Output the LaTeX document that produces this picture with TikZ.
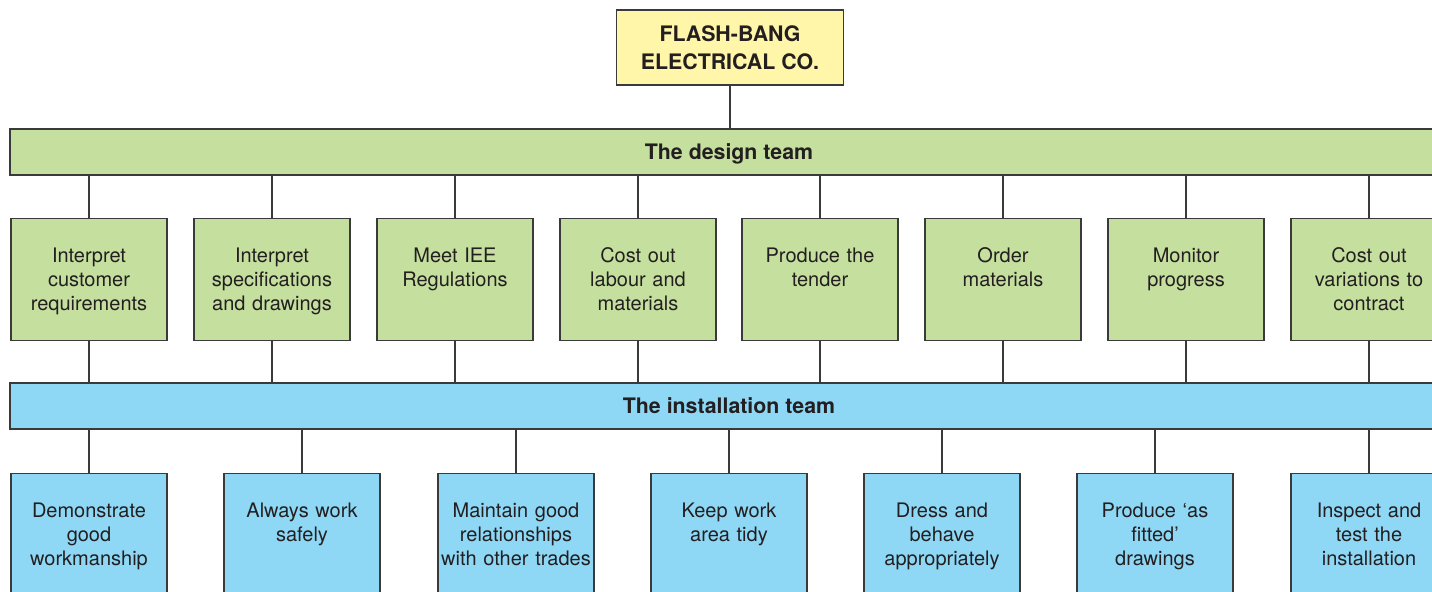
\documentclass[tikz,border=0pt]{standalone}
\usepackage{fontspec}
\setmainfont{TeX Gyre Heros}
\usepackage{xcolor}
\usepackage{tikz}
\definecolor{firmyellow}{RGB}{255,246,170}
\definecolor{designgreen}{RGB}{197,223,159}
\definecolor{installblue}{RGB}{142,216,246}
\definecolor{inkgray}{RGB}{35,31,32}
\definecolor{linegray}{RGB}{58,58,58}

\begin{document}
\begin{tikzpicture}[x=0.75pt, y=-0.75pt,
	every node/.style={text=inkgray},
	firmbox/.style={draw=linegray, line width=1pt, fill=firmyellow, minimum width=170.25pt, minimum height=56.25pt, align=center, font=\fontsize{16}{21}\selectfont\bfseries},
	teambar/.style={draw=linegray, line width=1pt, minimum width=1078.5pt, minimum height=34.5pt, inner sep=0pt, text height=11.5pt, text depth=0pt, font=\fontsize{16}{21}\selectfont\bfseries},
	taskbox/.style={draw=linegray, line width=1pt, anchor=north, text width=117pt, inner xsep=0pt, inner ysep=0pt, text height=32.5pt, text depth=59pt, align=center, font=\fontsize{15}{18}\selectfont},
	link/.style={draw=linegray, line width=1pt}]
	\useasboundingbox (0,0) rectangle (1432,592);
	\clip (0,0) rectangle (1432,592);

	\node[firmbox] (firm) at (730,47.5) {FLASH-BANG\\ELECTRICAL CO.};
	\node[teambar, fill=designgreen] (design) at (729,152) {The design team};
	\node[teambar, fill=installblue] (install) at (729,406) {The installation team};

	\node[taskbox, fill=designgreen] (interpret) at (89,218) {Interpret\\customer\\requirements};
	\node[taskbox, fill=designgreen] (specs) at (272,218) {Interpret\\specifications\\and drawings};
	\node[taskbox, fill=designgreen] (regs) at (455,218) {Meet IEE\\Regulations};
	\node[taskbox, fill=designgreen] (costing) at (638,218) {Cost out\\labour and\\materials};
	\node[taskbox, fill=designgreen] (tender) at (820,218) {Produce the\\tender};
	\node[taskbox, fill=designgreen] (ordering) at (1003,218) {Order\\materials};
	\node[taskbox, fill=designgreen] (progress) at (1186,218) {Monitor\\progress};
	\node[taskbox, fill=designgreen] (variations) at (1369,218) {Cost out\\variations to\\contract};

	\node[taskbox, fill=installblue] (workmanship) at (89,473) {Demonstrate\\good\\workmanship};
	\node[taskbox, fill=installblue] (safety) at (302,473) {Always work\\safely};
	\node[taskbox, fill=installblue] (relations) at (516,473) {Maintain good\\relationships\\with other trades};
	\node[taskbox, fill=installblue] (tidiness) at (729,473) {Keep work\\area tidy};
	\node[taskbox, fill=installblue] (conduct) at (942,473) {Dress and\\behave\\appropriately};
	\node[taskbox, fill=installblue] (asfitted) at (1155,473) {Produce ‘as\\fitted’\\drawings};
	\node[taskbox, fill=installblue] (testing) at (1369,473) {Inspect and\\test the\\installation};

	\draw[link] (firm.south) -- (firm.south |- design.north);

	\draw[link] (interpret.north) -- (interpret.north |- design.south);
	\draw[link] (specs.north) -- (specs.north |- design.south);
	\draw[link] (regs.north) -- (regs.north |- design.south);
	\draw[link] (costing.north) -- (costing.north |- design.south);
	\draw[link] (tender.north) -- (tender.north |- design.south);
	\draw[link] (ordering.north) -- (ordering.north |- design.south);
	\draw[link] (progress.north) -- (progress.north |- design.south);
	\draw[link] (variations.north) -- (variations.north |- design.south);

	\draw[link] (interpret.south) -- (interpret.south |- install.north);
	\draw[link] (specs.south) -- (specs.south |- install.north);
	\draw[link] (regs.south) -- (regs.south |- install.north);
	\draw[link] (costing.south) -- (costing.south |- install.north);
	\draw[link] (tender.south) -- (tender.south |- install.north);
	\draw[link] (ordering.south) -- (ordering.south |- install.north);
	\draw[link] (progress.south) -- (progress.south |- install.north);
	\draw[link] (variations.south) -- (variations.south |- install.north);

	\draw[link] (workmanship.north) -- (workmanship.north |- install.south);
	\draw[link] (safety.north) -- (safety.north |- install.south);
	\draw[link] (relations.north) -- (relations.north |- install.south);
	\draw[link] (tidiness.north) -- (tidiness.north |- install.south);
	\draw[link] (conduct.north) -- (conduct.north |- install.south);
	\draw[link] (asfitted.north) -- (asfitted.north |- install.south);
	\draw[link] (testing.north) -- (testing.north |- install.south);
\end{tikzpicture}
\end{document}
